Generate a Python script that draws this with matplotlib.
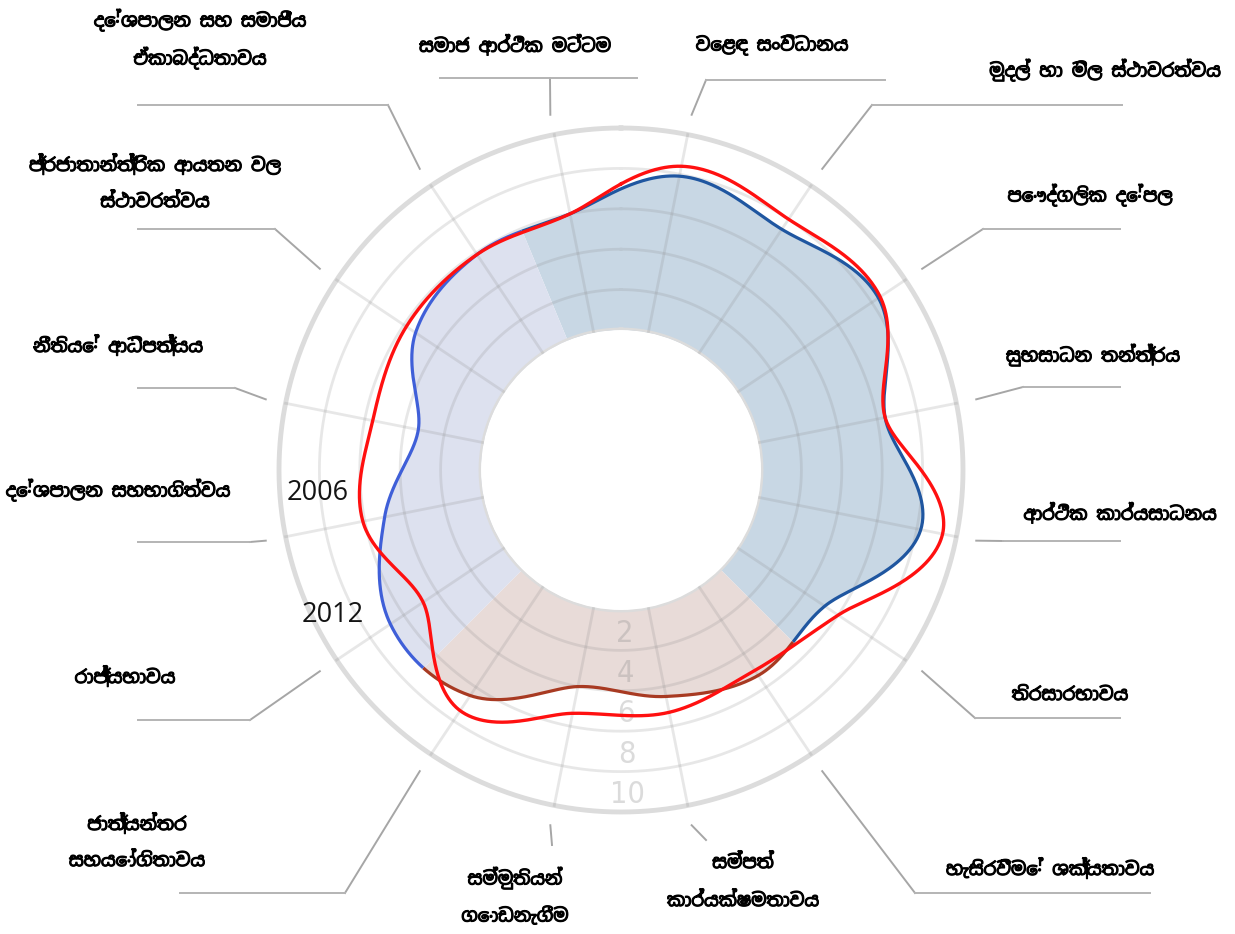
import numpy as np
import matplotlib
matplotlib.use("Agg")
import matplotlib.pyplot as plt
import matplotlib.patheffects as pe
from matplotlib.lines import Line2D

# BTI සටහන: 2006 සහ 2012 (දක්ෂිණාවර්තව, ඉහළ සිට)
categories = [
    "සමාජ ආර්ථික මට්ටම",
    "වෙළඳ සංවිධානය",
    "මුදල් හා මිල ස්ථාවරත්වය",
    "පෞද්ගලික දේපල",
    "සුභසාධන තන්ත්‍රය",
    "ආර්ථික කාර්යසාධනය",
    "තිරසාරභාවය",
    "හැසිරවීමේ ශක්‍යතාවය",
    "සම්පත්\nකාර්යක්ෂමතාවය",
    "සම්මුතියන්\nගොඩනැගීම",
    "ජාත්‍යන්තර\nසහයෝගිතාවය",
    "රාජ්‍යභාවය",
    "දේශපාලන සහභාගිත්වය",
    "නීතියේ ආධිපත්‍යය",
    "ප්‍රජාතාන්ත්‍රික ආයතන වල\nස්ථාවරත්වය",
    "දේශපාලන සහ සමාජීය\nඒකාබද්ධතාවය",
]
values_2006 = [6.0, 7.9, 7.4, 8.4, 6.4, 8.2, 5.2, 5.3, 4.5, 4.0, 6.5, 6.8, 5.0, 3.3, 5.3, 5.9]
values_2012 = [6.0, 8.4, 8.0, 8.5, 6.4, 9.3, 6.0, 5.0, 5.3, 5.35, 7.4, 4.85, 6.1, 5.6, 5.85, 5.9]
ring_ticks = [2, 4, 6, 8, 10]
series_names = ["2006", "2012"]

# label layout (pixels): text centre, leader knee, horizontal extent
label_pos = [(515, 45), (772, 45), (1105, 70), (1090, 195), (1093, 355), (1120, 513),
             (1070, 695), (1050, 868), (743, 882), (515, 897), (137, 842), (125, 676),
             (118, 490), (118, 345), (155, 183), (200, 39)]
leader_knee = [(550, 78), (706, 80), (872, 105), (983, 229), (1023, 387), (1003, 541),
               (975, 718), (915, 893), (706, 840), (552, 845), (345, 893), (250, 720),
               (250, 542), (235, 388), (275, 229), (388, 105)]
leader_h = [(440, 637), (706, 885), (872, 1122), (983, 1120), (1023, 1120), (1003, 1120),
            (975, 1120), (915, 1150), None, None, (180, 345), (138, 250),
            (138, 250), (138, 235), (138, 275), (138, 388)]

label_family = ["Noto Sans Sinhala", "DejaVu Sans"]

W, H = 1235, 934
cx, cy = 621, 470
r0_px, px_per = 140, 20.2
rmax = 10.6
R = r0_px + rmax * px_per

fig = plt.figure(figsize=(W / 100, H / 100), dpi=100)
ax = fig.add_axes([(cx - R) / W, (H - cy - R) / H, 2 * R / W, 2 * R / H], projection="polar")
ax.set_theta_zero_location("N")
ax.set_theta_direction(-1)
ax.set_ylim(0, rmax)
ax.set_rorigin(-r0_px / px_per)
ax.axis("off")

n = len(categories)
step = 360 / n
start = -step / 2
cat_deg = start + step * np.arange(n)


def smooth(vals, th_deg):
    vals = np.asarray(vals, dtype=float)
    u = ((th_deg - start) / step) % n
    k = np.floor(u).astype(int)
    t = u - k
    p0, p1 = vals[(k - 1) % n], vals[k % n]
    p2, p3 = vals[(k + 1) % n], vals[(k + 2) % n]
    return 0.5 * (2 * p1 + (p2 - p0) * t + (2 * p0 - 5 * p1 + 4 * p2 - p3) * t ** 2
                  + (3 * p1 - p0 - 3 * p2 + p3) * t ** 3)


# sectors: economy / management / political
sectors = [(-22.5, 135, "#c8d7e4", "#1f56a0"),
           (135, 225, "#e8dbd8", "#a83a22"),
           (225, 337.5, "#dde1ef", "#3f5fd8")]

for a, b, fc, lc in sectors:
    th = np.linspace(a, b, 400)
    r = smooth(values_2006, th)
    ax.fill_between(np.deg2rad(th), 0, r, color=fc, lw=0, zorder=1)
    ax.plot(np.deg2rad(th), r, color=lc, lw=2.3, zorder=4, solid_capstyle="butt")

th_all = np.linspace(0, 360, 1441)
ax.plot(np.deg2rad(th_all), smooth(values_2012, th_all), color="#ff1010", lw=2.4, zorder=5)

# grid
full = np.linspace(0, 2 * np.pi, 721)
for v in [2, 4, 6, 8]:
    ax.plot(full, np.full_like(full, v), color="#8a8a8a", alpha=0.2, lw=2.0, zorder=2)
for v in [0, 10]:
    ax.plot(full, np.full_like(full, v), color="#dcdcdc", lw=3.5, zorder=2)
for d in cat_deg:
    ax.plot([np.deg2rad(d)] * 2, [0, 10], color="#8a8a8a", alpha=0.2, lw=2.0, zorder=2)

for v in ring_ticks:
    ax.text(np.pi - 0.02, v - 0.85, str(v), ha="center", va="center", fontsize=22,
            color="#8a8a8a", alpha=0.3, family="DejaVu Sans", fontstretch="condensed",
            zorder=3)


def fx(p):
    return p[0] / W, 1 - p[1] / H


bold = [pe.withStroke(linewidth=0.8, foreground="black")]
inv = fig.transFigure.inverted()
for i, d in enumerate(cat_deg):
    s = inv.transform(ax.transData.transform((np.deg2rad(d), 11.0)))
    k = fx(leader_knee[i])
    fig.add_artist(Line2D([s[0], k[0]], [s[1], k[1]], color="#a6a6a6", lw=1.4))
    if leader_h[i] is not None:
        x0, x1 = leader_h[i]
        fig.add_artist(Line2D([x0 / W, x1 / W], [k[1], k[1]], color="#b4b4b4", lw=1.4))
    lines = categories[i].split("\n")
    x, y = label_pos[i]
    for j, ln in enumerate(lines):
        yy = y + (j - (len(lines) - 1) / 2) * 38
        fig.text(x / W, 1 - yy / H, ln, ha="center", va="center", fontsize=13,
                 fontweight="bold", family=label_family, color="black", path_effects=bold)

fig.text(318 / W, 1 - 493 / H, series_names[0], ha="center", va="center", fontsize=19.5,
         family="Open Sans", color="#141414")
fig.text(333 / W, 1 - 615 / H, series_names[1], ha="center", va="center", fontsize=19.5,
         family="Open Sans", color="#141414")

fig.savefig("out.png", dpi=100, facecolor="white")
